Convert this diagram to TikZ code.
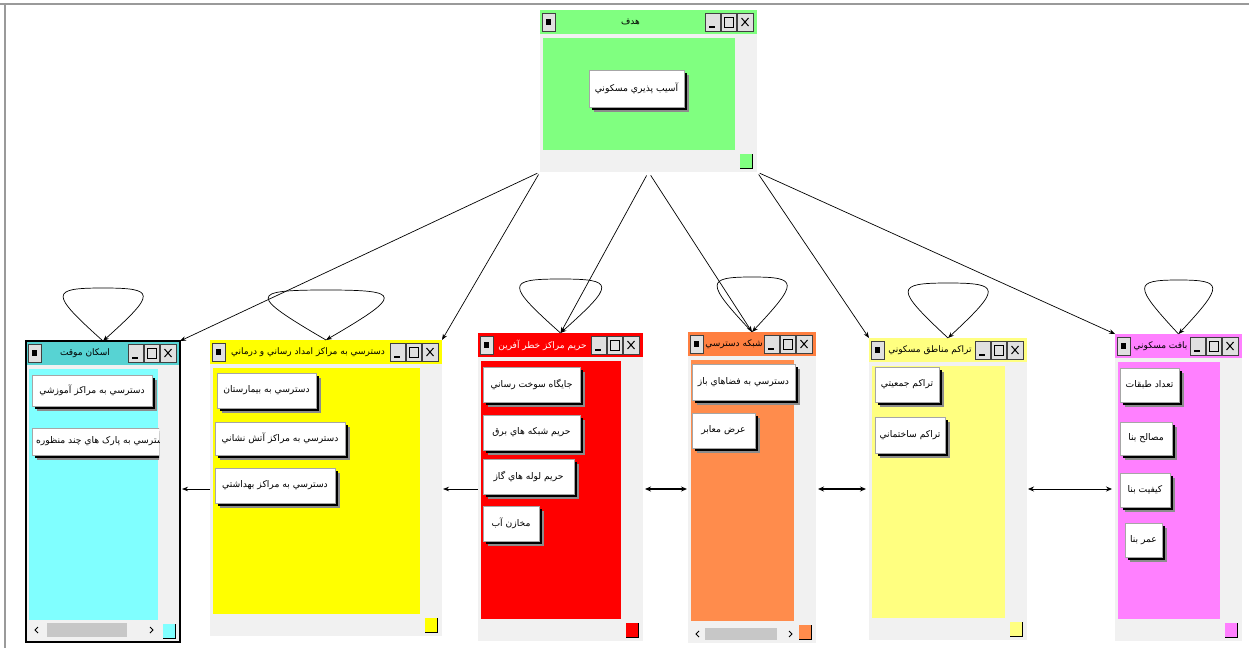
\documentclass[tikz,border=0pt]{standalone}
\usepackage{fontspec}
\setmainfont{DejaVu Sans}
\newfontfamily\arabicfont[Script=Arabic]{DejaVu Sans}
\TeXXeTstate=1
\usetikzlibrary{arrows.meta,shadows}
\definecolor{gcol}{HTML}{80FF80}
\definecolor{cyt}{HTML}{57D3D3}
\definecolor{cyc}{HTML}{80FFFF}
\definecolor{yel}{HTML}{FFFF00}
\definecolor{redc}{HTML}{FF0000}
\definecolor{orat}{HTML}{FF7F40}
\definecolor{orac}{HTML}{FF8C4C}
\definecolor{lyel}{HTML}{FFFF80}
\definecolor{mag}{HTML}{FF80FF}
\definecolor{scr}{HTML}{F1F1F1}
\definecolor{frame}{HTML}{9A9A9A}
\tikzset{
  ctlbox/.style={fill=black!12, draw=black!75, line width=0.6pt},
  titletext/.style={inner sep=0pt, font=\arabicfont\fontsize{9}{10}\selectfont},
  btnst/.style={draw=black!35, fill=white, line width=0.8pt, inner sep=0pt, outer sep=0pt,
    font=\arabicfont\fontsize{9.2}{10}\selectfont,
    general shadow={fill=black!45, shadow xshift=5pt, shadow yshift=-5pt},
    general shadow={fill=black, shadow xshift=3pt, shadow yshift=-3pt}},
  winnode/.style={inner sep=0pt, outer sep=0pt, anchor=north west},
  arr/.style={-{Stealth[length=6pt,width=4.5pt]}, line width=0.7pt},
  darr/.style={{Stealth[length=6pt,width=5pt]}-{Stealth[length=6pt,width=5pt]}, line width=0.8pt},
  tdarr/.style={{Stealth[length=6pt,width=5pt]}-{Stealth[length=6pt,width=5pt]}, line width=1.7pt}
}
% #1 name #2 x0 #3 y0 #4 x1 #5 y1 #6 title colour #7 client colour #8 title #9 title text colour
\newcommand\winbox[9]{%
  \fill[scr] (#2,#3) rectangle (#4,#5);
  \fill[#6] (#2,#3) rectangle (#4,{#3+24});
  \fill[#7] ({#2+3},{#3+28}) rectangle ({#4-22},{#5-22});
  \draw[ctlbox] ({#2+2},{#3+3}) rectangle ({#2+15},{#3+21});
  \fill[black] ({#2+6},{#3+9}) rectangle ({#2+11},{#3+15});
  \draw[ctlbox] ({#4-52},{#3+3}) rectangle ({#4-37},{#3+21});
  \draw[line width=1.5pt] ({#4-48},{#3+17}) -- ({#4-42},{#3+17});
  \draw[ctlbox] ({#4-36},{#3+3}) rectangle ({#4-21},{#3+21});
  \draw[line width=0.7pt] ({#4-33},{#3+7}) rectangle ({#4-24},{#3+17});
  \draw[line width=1.4pt] ({#4-33},{#3+7.7}) -- ({#4-24},{#3+7.7});
  \draw[ctlbox] ({#4-20},{#3+3}) rectangle ({#4-4},{#3+21});
  \draw[line width=1pt] ({#4-15.5},{#3+8}) -- ({#4-8.5},{#3+16}) ({#4-15.5},{#3+16}) -- ({#4-8.5},{#3+8});
  \node[titletext, text=#9] (#1-title) at ({(#2+17+#4-53)/2},{#3+12}) {#8};
  \fill[#7] ({#4-17},{#5-18}) rectangle ({#4-5},{#5-4});
  \draw[black, line width=1pt] ({#4-17},{#5-4}) -- ({#4-5},{#5-4}) -- ({#4-5},{#5-18});
  \node[winnode, minimum width={(#4-#2)*1pt}, minimum height={(#5-#3)*1pt}] (#1) at (#2,#3) {};
}
% #1 name #2 x0 #3 y0 #4 x1 #5 y1 #6 text
\newcommand\btn[6]{%
  \node[btnst, minimum width={(#4-#2)*1pt}, minimum height={(#5-#3)*1pt}] (#1) at ({(#2+#4)/2},{(#3+#5)/2}) {#6};
}
% #1 name #2 half width #3 height
\newcommand\selfloop[3]{%
  \draw[arr] (#1.north) .. controls ([shift={({-1.33*#2},{-0.9*#3})}]#1.north) and ([shift={({-1.33*#2},{-#3})}]#1.north) .. ([shift={(0,{-#3})}]#1.north)
    .. controls ([shift={({1.33*#2},{-#3})}]#1.north) and ([shift={({1.33*#2},{-0.9*#3})}]#1.north) .. (#1.north);
}
\begin{document}
\begin{tikzpicture}[x=1pt,y=-1pt]
\useasboundingbox (0,0) rectangle (1249,648);
\fill[white] (0,0) rectangle (1249,648);
\draw[frame, line width=1.6pt] (0,4) -- (1249,4);
\draw[frame, line width=1.6pt] (5,4) -- (5,648);

% windows
\winbox{g}{540}{10}{757}{172}{gcol}{gcol}{\beginR هدف\endR}{black}
\winbox{w1}{26}{341}{180}{642}{cyt}{cyc}{\beginR اسکان موقت\endR}{black}
\winbox{w2}{210}{340}{442}{636}{yel}{yel}{\beginR دسترسي به مراکز امداد رساني و درماني\endR}{black}
\winbox{w3}{478}{333}{643}{641}{redc}{redc}{\beginR حريم مراکز خطر آفرين\endR}{white}
\winbox{w4}{688}{332}{816}{643}{orat}{orac}{\beginR شبکه دسترسي\endR}{black}
\winbox{w5}{869}{338}{1027}{640}{lyel}{lyel}{\beginR تراکم مناطق مسکوني\endR}{black}
\winbox{w6}{1115}{334}{1242}{641}{mag}{mag}{\beginR بافت مسکوني\endR}{black}

% scrollbar thumbs
\fill[black!22] (47,623) rectangle (127,637);
\draw[line width=0.9pt] (38,627) -- (35,630) -- (38,633);
\draw[line width=0.9pt] (150,627) -- (153,630) -- (150,633);
\fill[black!22] (705,628) rectangle (777,640);
\draw[line width=0.9pt] (699,631) -- (696,634) -- (699,637);
\draw[line width=0.9pt] (789,631) -- (792,634) -- (789,637);
\draw[line width=1.8pt] (w1.north west) rectangle (w1.south east);

% buttons
\btn{gb}{589}{70}{684}{107}{\beginR آسيب پذيري مسکوني\endR}
\btn{w1b1}{32}{375}{152}{406}{\beginR دسترسي به مراکز آموزشي\endR}
\begin{scope}
  \clip (29,365) rectangle (159,470);
  \node[btnst, anchor=west, inner xsep=4pt, minimum height=27pt] (w1b2) at (32,441.5) {\beginR دسترسي به پارک هاي چند منظوره\endR};
\end{scope}
\btn{w2b1}{217}{373}{316}{408}{\beginR دسترسي به بيمارستان\endR}
\btn{w2b2}{215}{422}{345}{455}{\beginR دسترسي به مراکز آتش نشاني\endR}
\btn{w2b3}{215}{468}{335}{503}{\beginR دسترسي به مراکز بهداشتي\endR}
\btn{w3b1}{483}{367}{580}{402}{\beginR جايگاه سوخت رساني\endR}
\btn{w3b2}{483}{415}{580}{450}{\beginR حريم شبکه هاي برق\endR}
\btn{w3b3}{483}{459}{574}{494}{\beginR حريم لوله هاي گاز\endR}
\btn{w3b4}{483}{506}{539}{541}{\beginR مخازن آب\endR}
\btn{w4b1}{692}{364}{795}{400}{\beginR دسترسي به فضاهاي باز\endR}
\btn{w4b2}{692}{413}{755}{448}{\beginR عرض معابر\endR}
\btn{w5b1}{875}{367}{939}{402}{\beginR تراکم جمعيتي\endR}
\btn{w5b2}{875}{417}{945}{453}{\beginR تراکم ساختماني\endR}
\btn{w6b1}{1120}{368}{1179}{402}{\beginR تعداد طبقات\endR}
\btn{w6b2}{1120}{422}{1172}{455}{\beginR مصالح بنا\endR}
\btn{w6b3}{1120}{473}{1170}{507}{\beginR کيفيت بنا\endR}
\btn{w6b4}{1125}{523}{1162}{557}{\beginR عمر بنا\endR}

% edges from the goal window
\draw[arr, shorten <=3pt] (g.south west) -- (w1.north east);
\draw[arr, shorten <=3pt] (g.south west) -- (w2.north east);
\draw[arr, shorten <=4pt] (g.south) -- (w3.north);
\draw[arr, shorten <=4pt] (g.south) -- (w4.north);
\draw[arr, shorten <=3pt] (g.south east) -- (w5.north west);
\draw[arr, shorten <=3pt] (g.south east) -- (w6.north west);

% self loops
\selfloop{w1}{40}{53}
\selfloop{w2}{58}{50}
\selfloop{w3}{41}{54}
\selfloop{w4}{35}{55}
\selfloop{w5}{40}{55}
\selfloop{w6}{34}{54}

% horizontal connectors
\coordinate (hy) at (0,489);
\draw[arr, shorten >=2pt] (w2.west |- hy) -- (w1.east |- hy);
\draw[arr, shorten >=1pt] (w3.west |- hy) -- (w2.east |- hy);
\draw[tdarr, shorten <=2pt, shorten >=1pt] (w3.east |- hy) -- (w4.west |- hy);
\draw[tdarr, shorten <=2pt, shorten >=3pt] (w4.east |- hy) -- (w5.west |- hy);
\draw[darr, shorten <=1pt, shorten >=3pt] (w5.east |- hy) -- (w6.west |- hy);
\end{tikzpicture}
\end{document}
